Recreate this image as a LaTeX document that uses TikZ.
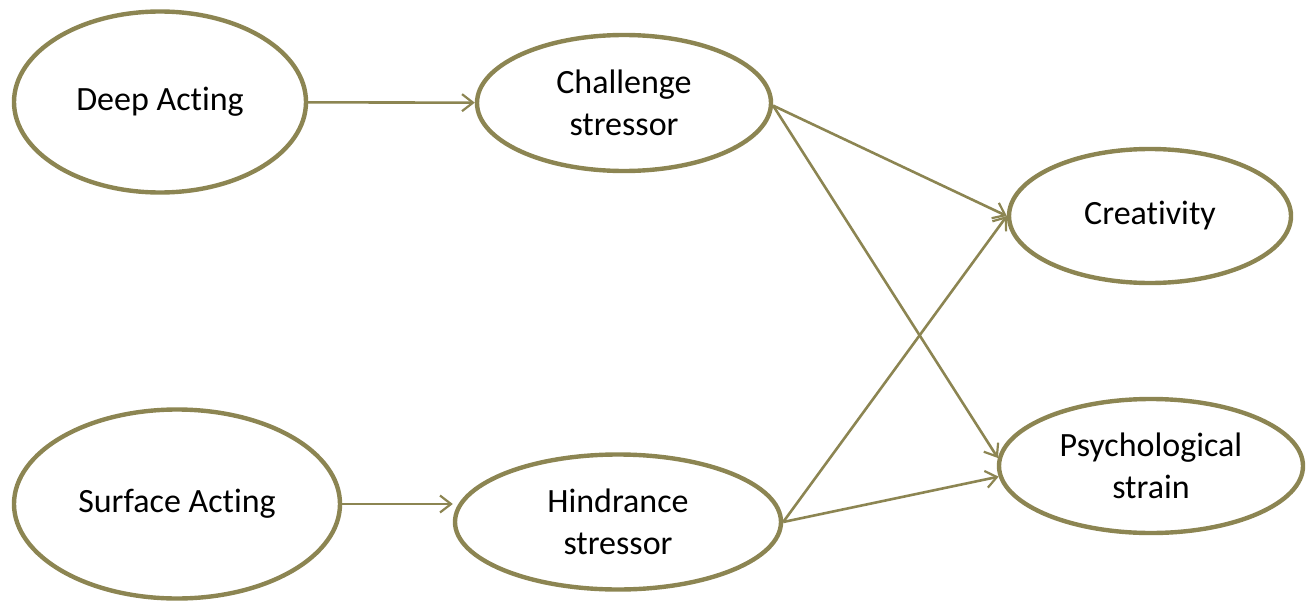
\documentclass[tikz,border=0pt]{standalone}
\usepackage{fontspec}
\setmainfont{Carlito}[Ligatures={NoCommon}]
\usepackage{tikz}
\usetikzlibrary{shapes.geometric,arrows.meta}
\definecolor{olivedrab}{HTML}{8C8552}

\begin{document}
\begin{tikzpicture}[x=1pt,y=-1pt,
  oval/.style={ellipse,draw=olivedrab,line width=4.4pt,fill=white,inner sep=0pt,
    align=center,font=\fontsize{34}{42}\selectfont},
  link/.style={-{Straight Barb[length=11pt,width=17pt,line width=2.2pt]},draw=olivedrab,line width=2.6pt}]
\useasboundingbox (0,0) rectangle (1309,602);
\node[oval,minimum width=292pt,minimum height=181pt] (deep) at (160,102) {Deep Acting};
\node[oval,minimum width=294pt,minimum height=136pt] (chal) at (624,103) {Challenge\\stressor};
\node[oval,minimum width=282pt,minimum height=134pt] (crea) at (1150,216) {Creativity};
\node[oval,minimum width=326pt,minimum height=189pt] (surf) at (177,504) {Surface Acting};
\node[oval,minimum width=326pt,minimum height=135pt] (hind) at (618,522) {Hindrance\\stressor};
\node[oval,minimum width=304pt,minimum height=134pt] (psy) at (1151,466) {Psychological\\strain};
\draw[link] (deep) -- (chal);
\draw[link] (surf.east) -- (surf.east -| hind.west);
\draw[link] (chal.-1) -- (crea.west);
\draw[link] (chal.-1) -- (psy.177);
\draw[link] (hind.east) -- (crea.west);
\draw[link] (hind.east) -- (psy.184);
\end{tikzpicture}
\end{document}
